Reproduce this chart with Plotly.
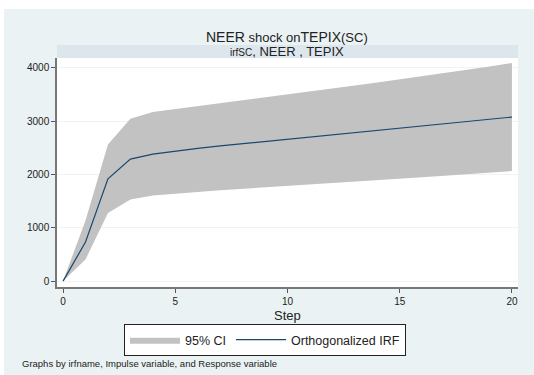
import plotly.graph_objects as go

steps = list(range(21))
irf = [0, 732, 1919, 2289, 2383, 2440, 2490, 2535, 2578, 2620, 2662, 2704, 2745,
       2785, 2826, 2868, 2910, 2952, 2994, 3036, 3077]
upper = [0, 1137, 2563, 3045, 3170, 3225, 3280, 3333, 3386, 3440, 3494, 3548, 3602,
         3670, 3727, 3784, 3844, 3904, 3964, 4027, 4090]
lower = [0, 405, 1276, 1531, 1606, 1640, 1672, 1703, 1733, 1762, 1790, 1818, 1845,
         1872, 1898, 1924, 1950, 1975, 2000, 2032, 2064]
x_ticks = [0, 5, 10, 15, 20]
y_ticks = [0, 1000, 2000, 3000, 4000]

W, H = 534, 375
L, R, T, B = 57, 16, 58, 88
pw, ph = W - L - R, H - T - B

def px_x(p):
    return (p - L) / pw

def px_y(p):
    return (H - B - p) / ph

BG = "#EAF2F3"
FONT = "Liberation Sans, Arial, sans-serif"

fig = go.Figure()
fig.add_trace(go.Scatter(
    x=steps + steps[::-1], y=upper + lower[::-1], fill="toself",
    fillcolor="#C2C2C2", line=dict(width=0, color="#C2C2C2"),
    mode="lines", name="95% CI", hoverinfo="skip"))
fig.add_trace(go.Scatter(
    x=steps, y=irf, mode="lines", name="Orthogonalized IRF",
    line=dict(color="#1A476F", width=1.2)))

fig.update_layout(
    width=W, height=H,
    margin=dict(l=L, r=R, t=T, b=B, autoexpand=False),
    paper_bgcolor=BG, plot_bgcolor="white",
    font=dict(family=FONT, color="#222222", size=10),
    showlegend=True,
    legend=dict(orientation="h", x=px_x(265), y=px_y(324), xanchor="center", yanchor="top",
                bgcolor="white", bordercolor="#222222", borderwidth=1,
                font=dict(size=12.5, family=FONT), itemwidth=50, traceorder="normal"),
    xaxis=dict(range=[-0.27, 20.27], tickvals=x_ticks, ticks="outside", ticklen=4,
               tickcolor="#555555", showgrid=False, zeroline=False,
               showline=True, linecolor="#777777", linewidth=1.5,
               tickfont=dict(size=10), automargin=False),
    yaxis=dict(range=[-111, 4185], tickvals=y_ticks, ticks="outside", ticklen=4,
               tickcolor="#555555", showgrid=True, gridcolor="#EEF3F5", gridwidth=1,
               zeroline=False, showline=True, linecolor="#777777", linewidth=1.5,
               tickfont=dict(size=10), automargin=False),
)

shapes = [
    dict(type="rect", xref="paper", yref="paper", x0=px_x(-10), x1=px_x(W + 10),
         y0=px_y(9), y1=px_y(-10), fillcolor="white", line=dict(width=0), layer="below"),
    dict(type="rect", xref="paper", yref="paper", x0=px_x(-10), x1=px_x(4),
         y0=px_y(H + 10), y1=px_y(-10), fillcolor="white", line=dict(width=0), layer="below"),
    dict(type="rect", xref="paper", yref="paper", x0=0, x1=1,
         y0=1, y1=px_y(45), fillcolor="#DCE6EC", line=dict(width=0)),
]
fig.update_layout(shapes=shapes)

annotations = [
    dict(text="<span style='font-size:14px'>NEER</span> shock on<span style='font-size:14px'>TEPIX</span>(SC)",
         xref="paper", yref="paper", x=px_x(287), y=px_y(37), xanchor="center", yanchor="middle",
         showarrow=False, font=dict(size=13, family=FONT, color="#222222")),
    dict(text="<span style='font-size:10px'>irfSC</span>, NEER , TEPIX",
         xref="paper", yref="paper", x=px_x(287), y=px_y(51.5), xanchor="center", yanchor="middle",
         showarrow=False, font=dict(size=13, family=FONT, color="#222222")),
    dict(text="Step", xref="paper", yref="paper", x=px_x(287), y=px_y(315.5),
         xanchor="center", yanchor="middle", showarrow=False,
         font=dict(size=13, family=FONT, color="#222222")),
    dict(text="Graphs by irfname, Impulse variable, and Response variable",
         xref="paper", yref="paper", x=px_x(20), y=px_y(363), xanchor="left", yanchor="middle",
         showarrow=False, font=dict(size=9.5, family=FONT, color="#222222")),
]
fig.update_layout(annotations=annotations)

fig.write_html("out.html", config={"displayModeBar": False},
               post_script="document.body.style.margin='0';")
